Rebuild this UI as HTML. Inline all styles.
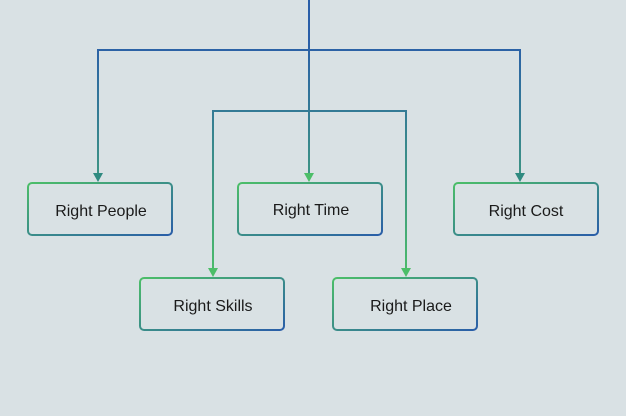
<!DOCTYPE html>
<html><head><style>
html,body{margin:0;padding:0;background:#d9e1e4;}
svg{display:block;}
text{font-family:"Liberation Sans",sans-serif;font-size:16px;fill:#1a1a1a;}
</style></head><body>
<svg width="626" height="416" viewBox="0 0 626 416">
<defs>
<linearGradient id="ln" gradientUnits="userSpaceOnUse" x1="0" y1="40" x2="0" y2="280">
<stop offset="0" stop-color="#2a5ea8"/><stop offset="1" stop-color="#4cbe68"/>
</linearGradient>
<linearGradient id="bx" x1="0" y1="0" x2="1" y2="1">
<stop offset="0" stop-color="#4cbe68"/><stop offset="1" stop-color="#2a5ea8"/>
</linearGradient>
</defs>
<g fill="none" stroke="url(#ln)" stroke-width="2">
<path d="M309 0V176"/>
<path d="M98 176V50H520V176"/>
<path d="M213 271V111H406V271"/>
</g>
<g>
<polygon points="93,173 103,173 98,182" fill="#2f8a80"/>
<polygon points="304,173 314,173 309,182" fill="#4cbe68"/>
<polygon points="515,173 525,173 520,182" fill="#2f8a80"/>
<polygon points="208,268 218,268 213,277" fill="#4cbe68"/>
<polygon points="401,268 411,268 406,277" fill="#4cbe68"/>
</g>
<g fill="none" stroke="url(#bx)" stroke-width="2">
<rect x="28" y="183" width="144" height="52" rx="4"/>
<rect x="238" y="183" width="144" height="52" rx="4"/>
<rect x="454" y="183" width="144" height="52" rx="4"/>
<rect x="140" y="278" width="144" height="52" rx="4"/>
<rect x="333" y="278" width="144" height="52" rx="4"/>
</g>
<text x="101" y="216" text-anchor="middle">Right People</text>
<text x="311" y="215" text-anchor="middle">Right Time</text>
<text x="526" y="216" text-anchor="middle">Right Cost</text>
<text x="213" y="311" text-anchor="middle">Right Skills</text>
<text x="411" y="311" text-anchor="middle">Right Place</text>
</svg>
</body></html>
